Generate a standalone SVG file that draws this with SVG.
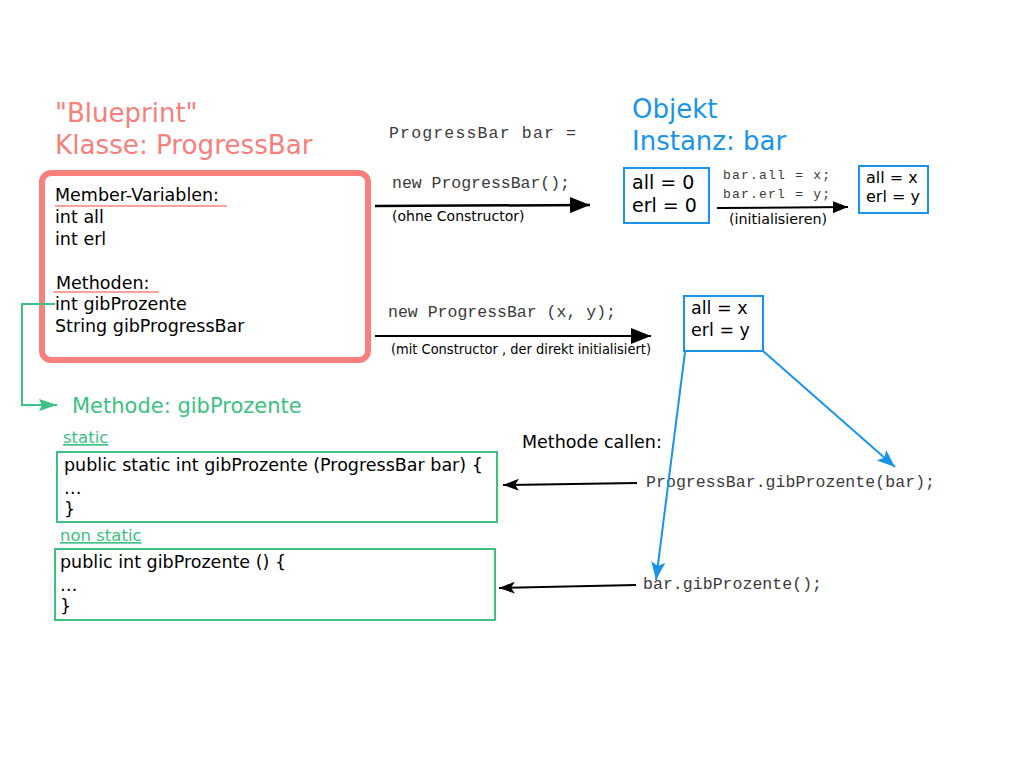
<svg xmlns="http://www.w3.org/2000/svg" width="1024" height="768" viewBox="0 0 1024 768">
<style>
  .t { font-family: "DejaVu Sans", sans-serif; fill: #000; }
  .m { font-family: "Liberation Mono", monospace; fill: #3a3a3a; }
  .red { fill: #f8807c; }
  .blue { fill: #1a94ea; }
  .green { fill: #3cc180; }
  .bbox { fill: #fff; stroke: #1a94ea; stroke-width: 2; }
  .gbox { fill: #fff; stroke: #3cc180; stroke-width: 2; }
  .blk { stroke: #000; fill: none; }
</style>
<defs>
  <marker id="ab" viewBox="0 0 20 16" refX="20" refY="8" markerWidth="20" markerHeight="16" markerUnits="userSpaceOnUse" orient="auto">
    <path d="M0,0 L20,8 L0,16 z" fill="#000"/>
  </marker>
  <marker id="abs" viewBox="0 0 15 12" refX="15" refY="6" markerWidth="15" markerHeight="12" markerUnits="userSpaceOnUse" orient="auto">
    <path d="M0,0 L15,6 L0,12 z" fill="#000"/>
  </marker>
  <marker id="abl" viewBox="0 0 16 12" refX="16" refY="6" markerWidth="16" markerHeight="12" markerUnits="userSpaceOnUse" orient="auto">
    <path d="M0,0 L16,6 L0,12 L4,6 z" fill="#000"/>
  </marker>
  <marker id="abb" viewBox="0 0 18 14" refX="18" refY="7" markerWidth="18" markerHeight="14" markerUnits="userSpaceOnUse" orient="auto">
    <path d="M0,0 L18,7 L0,14 L4,7 z" fill="#1a94ea"/>
  </marker>
  <marker id="abg" viewBox="0 0 18 12" refX="18" refY="6" markerWidth="18" markerHeight="12" markerUnits="userSpaceOnUse" orient="auto">
    <path d="M0,0 L18,6 L0,12 L3,6 z" fill="#3cc180"/>
  </marker>
</defs>
<rect width="1024" height="768" fill="#fff"/>

<g id="class-title">
  <text class="t red" x="55" y="122" font-size="26">"Blueprint"</text>
  <text class="t red" x="55" y="154" font-size="26.2">Klasse: ProgressBar</text>
</g>

<g id="class-box">
  <rect x="42" y="173" width="326" height="187" rx="9" fill="#fff" stroke="#f8807c" stroke-width="6"/>
  <text class="t" x="55" y="201" font-size="17.5">Member-Variablen:</text>
  <line x1="55" y1="206" x2="227" y2="206" stroke="#f8807c" stroke-width="1.5"/>
  <text class="t" x="55" y="223" font-size="17.5">int all</text>
  <text class="t" x="55" y="245" font-size="17.5">int erl</text>
  <text class="t" x="56" y="289" font-size="17.5">Methoden:</text>
  <line x1="53" y1="292" x2="159" y2="292" stroke="#f8807c" stroke-width="1.5"/>
  <text class="t" x="55" y="310" font-size="17.5">int gibProzente</text>
  <text class="t" x="55" y="332" font-size="17.5">String gibProgressBar</text>
</g>

<g id="object-title">
  <text class="t blue" x="632" y="118" font-size="26">Objekt</text>
  <text class="t blue" x="632" y="150" font-size="26">Instanz: bar</text>
</g>

<g id="obj-default">
  <rect class="bbox" x="624" y="168" width="85" height="55"/>
  <text class="t" x="632" y="189" font-size="19">all = 0</text>
  <text class="t" x="632" y="212" font-size="19">erl = 0</text>
</g>

<g id="obj-init">
  <rect class="bbox" x="859" y="166" width="69" height="47"/>
  <text class="t" x="866" y="183" font-size="16">all = x</text>
  <text class="t" x="866" y="202" font-size="16">erl = y</text>
</g>

<g id="obj-ctor">
  <rect class="bbox" x="684" y="296" width="79" height="55"/>
  <text class="t" x="691" y="314" font-size="17.5">all = x</text>
  <text class="t" x="691" y="336" font-size="17.5">erl = y</text>
</g>

<g id="method-title">
  <text class="t green" x="72" y="413" font-size="21">Methode: gibProzente</text>
  <text class="t green" x="63" y="443" font-size="16.5" text-decoration="underline">static</text>
  <text class="t green" x="60" y="541" font-size="16.5" text-decoration="underline">non static</text>
</g>

<g id="static-method">
  <rect class="gbox" x="57" y="452" width="440" height="70"/>
  <text class="t" x="64" y="471" font-size="17.5">public static int gibProzente (ProgressBar bar) {</text>
  <text class="t" x="64" y="494" font-size="17.5">…</text>
  <text class="t" x="64" y="515" font-size="17.5">}</text>
</g>

<g id="nonstatic-method">
  <rect class="gbox" x="55" y="549" width="440" height="71"/>
  <text class="t" x="60" y="568" font-size="17.5">public int gibProzente () {</text>
  <text class="t" x="60" y="591" font-size="17.5">…</text>
  <text class="t" x="60" y="612" font-size="17.5">}</text>
</g>

<g id="labels">
  <text class="m" x="389" y="138" font-size="16.5" textLength="187" lengthAdjust="spacing">ProgressBar bar =</text>
  <text class="m" x="392" y="188" font-size="16.5" textLength="178" lengthAdjust="spacing">new ProgressBar();</text>
  <text class="t" x="392" y="221" font-size="14">(ohne Constructor)</text>
  <text class="m" x="723" y="179" font-size="13" fill="#555" textLength="107" lengthAdjust="spacing">bar.all = x;</text>
  <text class="m" x="723" y="198" font-size="13" fill="#555" textLength="107" lengthAdjust="spacing">bar.erl = y;</text>
  <text class="t" x="729" y="224" font-size="14.3">(initialisieren)</text>
  <text class="m" x="388" y="317" font-size="16.5" textLength="228" lengthAdjust="spacing">new ProgressBar (x, y);</text>
  <text class="t" x="391" y="354" font-size="13.5" textLength="260" lengthAdjust="spacingAndGlyphs">(mit Constructor , der direkt initialisiert)</text>
  <text class="t" x="522" y="448" font-size="17.5">Methode callen:</text>
  <text class="m" x="646" y="487" font-size="16.5" textLength="289" lengthAdjust="spacing">ProgressBar.gibProzente(bar);</text>
  <text class="m" x="643" y="589" font-size="16.5" textLength="179" lengthAdjust="spacing">bar.gibProzente();</text>
</g>

<g id="connectors">
  <line class="blk" x1="375" y1="206" x2="590" y2="205" stroke-width="2.5" marker-end="url(#ab)"/>
  <line class="blk" x1="717" y1="208" x2="848" y2="207" stroke-width="2" marker-end="url(#abs)"/>
  <line class="blk" x1="375" y1="336" x2="651" y2="336" stroke-width="2" marker-end="url(#ab)"/>
  <line class="blk" x1="637" y1="483" x2="503" y2="485" stroke-width="2" marker-end="url(#abl)"/>
  <line class="blk" x1="636" y1="585" x2="499" y2="588" stroke-width="2" marker-end="url(#abl)"/>
  <line x1="685" y1="352" x2="656" y2="580" stroke="#1a94ea" stroke-width="2" marker-end="url(#abb)"/>
  <line x1="763" y1="351" x2="895" y2="467" stroke="#1a94ea" stroke-width="2" marker-end="url(#abb)"/>
  <polyline points="55,304 22,304 22,405 57,405" fill="none" stroke="#3cc180" stroke-width="2" marker-end="url(#abg)"/>
</g>
</svg>
